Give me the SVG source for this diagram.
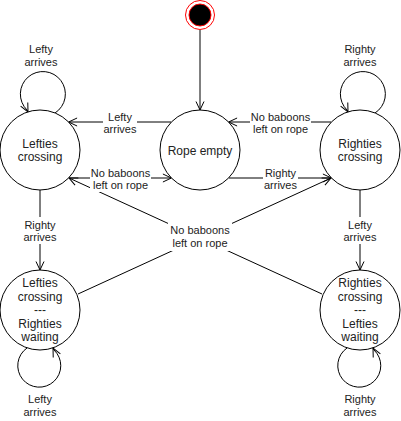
<svg xmlns="http://www.w3.org/2000/svg" width="401" height="421" viewBox="0 0 401 421">
<style>
.st{fill:#fff;stroke:#000;stroke-width:1}
.ln{fill:none;stroke:#000;stroke-width:1}
.nt{font-family:"Liberation Sans",Arial,Helvetica,sans-serif;font-size:12px;fill:#222;text-anchor:middle}
.et{font-family:"Liberation Sans",Arial,Helvetica,sans-serif;font-size:11px;fill:#222;text-anchor:middle}
.bg{fill:#fff;stroke:none}
</style>
<defs>
<marker id="arr" markerUnits="userSpaceOnUse" markerWidth="12" markerHeight="12" viewBox="0 0 12 12" refX="10" refY="6" orient="auto">
<path d="M1.5,2 L10,6 L1.5,10" fill="none" stroke="#000" stroke-width="1"/>
</marker>
</defs>

<g id="connectors">
<path class="ln" d="M200,30 L200,110" marker-end="url(#arr)"/>
<path class="ln" d="M171.4,122 L68.6,122" marker-end="url(#arr)"/>
<path class="ln" d="M331.4,122 L228.6,122" marker-end="url(#arr)"/>
<path class="ln" d="M68.6,178 L171.4,178" marker-end="url(#arr)"/>
<path class="ln" d="M228.6,178 L331.4,178" marker-end="url(#arr)"/>
<path class="ln" d="M40,190 L40,270" marker-end="url(#arr)"/>
<path class="ln" d="M360,190 L360,270" marker-end="url(#arr)"/>
<path class="ln" d="M78,294 L331,178" marker-end="url(#arr)"/>
<path class="ln" d="M322,294 L69,178" marker-end="url(#arr)"/>
<path class="ln" d="M55,113 A22.5,22.5 0 1 0 27,110 L28,112" marker-end="url(#arr)"/>
<path class="ln" d="M375,113 A22.5,22.5 0 1 0 347,110 L348,112" marker-end="url(#arr)"/>
<path class="ln" d="M27,348 A21.5,21.5 0 1 0 54,350 L53,348" marker-end="url(#arr)"/>
<path class="ln" d="M347,348 A21.5,21.5 0 1 0 374,350 L373,348" marker-end="url(#arr)"/>

<g id="lbl-lefty-top">
<rect class="bg" x="103" y="110" width="34" height="26"/>
<text class="et" x="120" y="121">Lefty</text>
<text class="et" x="120" y="133">arrives</text>
</g>
<g id="lbl-noboons-top">
<rect class="bg" x="250" y="110" width="61" height="26"/>
<text class="et" x="280.5" y="121">No baboons</text>
<text class="et" x="280.5" y="133">left on rope</text>
</g>
<g id="lbl-noboons-low">
<rect class="bg" x="90" y="165" width="61" height="27"/>
<text class="et" x="120.5" y="177">No baboons</text>
<text class="et" x="120.5" y="189">left on rope</text>
</g>
<g id="lbl-righty-low">
<rect class="bg" x="263" y="165" width="35" height="27"/>
<text class="et" x="280.5" y="177">Righty</text>
<text class="et" x="280.5" y="189">arrives</text>
</g>
<g id="lbl-righty-vert">
<rect class="bg" x="23" y="217" width="34" height="27"/>
<text class="et" x="40" y="228.5">Righty</text>
<text class="et" x="40" y="241">arrives</text>
</g>
<g id="lbl-lefty-vert">
<rect class="bg" x="343" y="217" width="34" height="27"/>
<text class="et" x="360" y="228.5">Lefty</text>
<text class="et" x="360" y="241">arrives</text>
</g>
<g id="lbl-center">
<rect class="bg" x="168" y="222" width="64" height="29"/>
<text class="et" x="200" y="234">No baboons</text>
<text class="et" x="200" y="246.5">left on rope</text>
</g>
<g id="lbl-loops">
<text class="et" x="41" y="53">Lefty</text>
<text class="et" x="41" y="66">arrives</text>
<text class="et" x="360" y="53">Righty</text>
<text class="et" x="360" y="66">arrives</text>
<text class="et" x="40" y="402.5">Lefty</text>
<text class="et" x="40" y="415.5">arrives</text>
<text class="et" x="360" y="402.5">Righty</text>
<text class="et" x="360" y="415.5">arrives</text>
</g>
</g>

<g id="start">
<circle cx="200" cy="15" r="14.5" fill="#fff" stroke="#f00" stroke-width="1"/>
<circle cx="200" cy="15" r="11" fill="#000" stroke="#f00" stroke-width="1"/>
</g>
<g id="rope-empty">
<circle class="st" cx="200" cy="150" r="40"/>
<text class="nt" x="200" y="155">Rope empty</text>
</g>
<g id="lefties-crossing">
<circle class="st" cx="40" cy="150" r="40"/>
<text class="nt" x="40" y="147.5">Lefties</text>
<text class="nt" x="40" y="161">crossing</text>
</g>
<g id="righties-crossing">
<circle class="st" cx="360" cy="150" r="40"/>
<text class="nt" x="360" y="147.5">Righties</text>
<text class="nt" x="360" y="161">crossing</text>
</g>
<g id="lefties-crossing-righties-waiting">
<circle class="st" cx="40" cy="310" r="40"/>
<text class="nt" x="40" y="287.3">Lefties</text>
<text class="nt" x="40" y="300.8">crossing</text>
<text class="nt" x="40" y="314.3">---</text>
<text class="nt" x="40" y="327.8">Righties</text>
<text class="nt" x="40" y="341.3">waiting</text>
</g>
<g id="righties-crossing-lefties-waiting">
<circle class="st" cx="360" cy="310" r="40"/>
<text class="nt" x="360" y="287.3">Righties</text>
<text class="nt" x="360" y="300.8">crossing</text>
<text class="nt" x="360" y="314.3">---</text>
<text class="nt" x="360" y="327.8">Lefties</text>
<text class="nt" x="360" y="341.3">waiting</text>
</g>
</svg>
